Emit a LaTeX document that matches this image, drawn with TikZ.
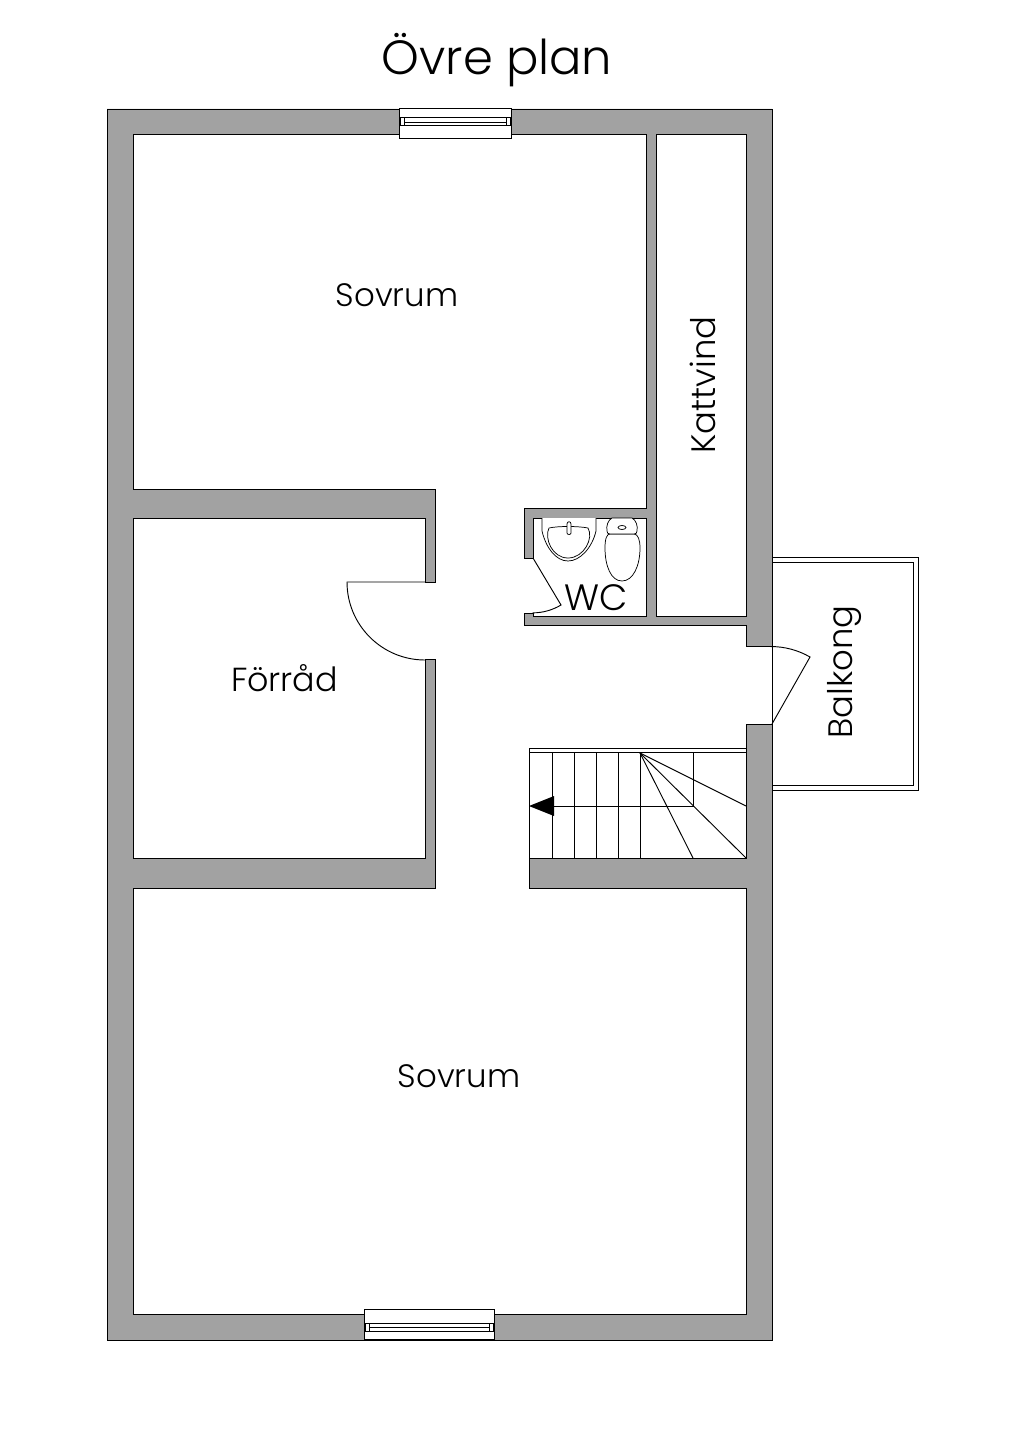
\documentclass[tikz,border=0pt]{standalone}
\usepackage{fontspec}
\setmainfont{Poppins}[UprightFont=* Light]
\usepackage{tikz}

\begin{document}
\begin{tikzpicture}[
          x=0.75pt, y=-0.75pt,
          wall/.style={draw=black,line width=0.65pt,fill=wallgray,even odd rule,line join=miter},
          thin line/.style={draw=black,line width=0.7pt},
          fixture/.style={draw=black,line width=0.55pt,fill=white},
          pane/.style={draw=black,line width=0.75pt,fill=white},
          room/.style={font=\fontsize{24.3pt}{25pt}\selectfont,inner sep=0pt},
          bigroom/.style={font=\fontsize{25.4pt}{26pt}\selectfont,inner sep=0pt}
        ]
        \definecolor{wallgray}{HTML}{A2A2A2}
        \path[use as bounding box,fill=white] (0,0) rectangle (1024,1448);

        \path[wall] (107,109) rectangle (772,1340)
          (656,134) rectangle (746,616)
          (133,134) -- (646,134) -- (646,508) -- (524,508) -- (524,558) -- (533,558)
          -- (533,518) -- (646,518) -- (646,616) -- (533,616) -- (533,613) -- (524,613)
          -- (524,625) -- (746,625) -- (746,646) -- (772,646) -- (772,724) -- (746,724)
          -- (746,858) -- (529,858) -- (529,888) -- (746,888) -- (746,1314) -- (133,1314)
          -- (133,888) -- (435,888) -- (435,659) -- (425,659) -- (425,858) -- (133,858)
          -- (133,518) -- (425,518) -- (425,582) -- (435,582) -- (435,489) -- (133,489)
          -- cycle;

        \draw[pane] (399,109) -- (511,109) -- (511,139) -- (399,139) -- cycle;
        \draw[pane] (400,118) rectangle (510,126);
        \draw[thin line] (404,118) -- (404,126) (506,118) -- (506,126) (404,122) -- (506,122);
        \draw[pane] (364,1309) rectangle (494,1339);
        \draw[pane] (365,1323) rectangle (493,1331);
        \draw[thin line] (369,1323) -- (369,1331) (489,1323) -- (489,1331) (369,1327) -- (489,1327);

        \draw[thin line] (772,557) -- (918,557) -- (918,790) -- (772,790);
        \draw[thin line] (772,562) -- (913,562) -- (913,785) -- (772,785);

        \draw[thin line] (425,582) -- (347,582) arc[start angle=180,end angle=90,radius=78];
        \draw[thin line] (772,724) -- (810,657) arc[start angle=-60,end angle=-90,radius=78];
        \draw[thin line] (533,558) -- (561,605) arc[start angle=59,end angle=90,radius=55];

        \draw[thin line] (529,748) -- (746,748) (529,752) -- (746,752) (529,748) -- (529,858);
        \foreach \tx in {552,574,596,618,640}
          \draw[thin line] (\tx,752) -- (\tx,858);
        \draw[thin line] (693,752) -- (693,806) -- (552,806);
        \coordinate (pivot) at (640,753);
        \draw[thin line] (pivot) -- (746,806);
        \draw[thin line] (pivot) -- (746,858);
        \draw[thin line] (pivot) -- (693,858);
        \fill[black] (529,806) -- (554,796) -- (554,816) -- cycle;

        \draw[fixture] (542,518) -- (542,531) .. controls (546,548) and (556,561) .. (568,561)
          .. controls (580,561) and (592,548) .. (596,531) -- (596,518);
        \draw[fixture] (549,528) .. controls (544,538) and (552,558) .. (568,558)
          .. controls (584,558) and (594,538) .. (588,528) .. controls (578,526) and (558,526) .. (549,528);
        \draw[fixture] (567,524) .. controls (567,521) and (571,521) .. (571,524) -- (571,533)
          .. controls (571,535) and (567,535) .. (567,533) -- cycle;

        \draw[fixture] (605,548) .. controls (605,538) and (607,534) .. (610,534) -- (634,534)
          .. controls (638,534) and (640,540) .. (640,548) .. controls (640,566) and (633,581) .. (622,581)
          .. controls (611,581) and (605,566) .. (605,548) -- cycle;
        \draw[fixture] (612,518) -- (632,518) .. controls (636,520) and (638,526) .. (637,531)
          .. controls (637,533) and (636,534) .. (634,534) -- (610,534)
          .. controls (608,534) and (607,533) .. (607,531) .. controls (606,526) and (608,520) .. (612,518) -- cycle;
        \draw[fixture] (622,527.5) ellipse[x radius=4,y radius=2];

        \node[font=\fontsize{36pt}{37pt}\selectfont,inner sep=0pt] (title) at (497,60) {Övre plan};
        \node[room] (sovrumtop) at (397,295) {Sovrum};
        \node[room] (sovrumbot) at (459,1076) {Sovrum};
        \node[room,font=\fontsize{25pt}{26pt}\selectfont] (forrad) at (284.5,678) {Förråd};
        \node[room,font=\fontsize{27.5pt}{28pt}\selectfont] (wc) at (596.5,598) {WC};
        \node[bigroom,rotate=90] (kattvind) at (703,385) {Kattvind};
        \node[bigroom,rotate=90] (balkong) at (844,672) {Balkong};
      \end{tikzpicture}
\end{document}
